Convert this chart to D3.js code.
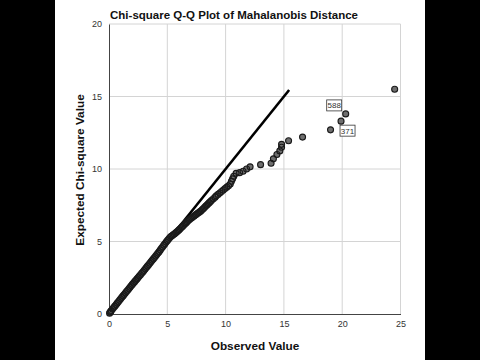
<!DOCTYPE html>
<html><head><meta charset="utf-8">
<script src="https://cdn.jsdelivr.net/npm/d3@7"></script>
<style>html,body{margin:0;padding:0;background:#000;}svg{display:block;}</style>
</head><body>
<script>
// ---- data ----
const titleText = "Chi-square Q-Q Plot of Mahalanobis Distance";
const xLabel = "Observed Value";
const yLabel = "Expected Chi-square Value";
const xTicks = [0, 5, 10, 15, 20, 25];
const yTicks = [0, 5, 10, 15, 20];
const refLineEnds = [0, 15.45];
const observed = [
  0.05,0.1,0.15,0.2,0.3,0.4,0.5,0.6,0.7,0.8,0.9,1.0,1.1,1.2,1.3,1.4,1.5,1.6,1.7,1.8,
  1.9,2.0,2.1,2.2,2.3,2.4,2.5,2.6,2.7,2.8,2.9,3.0,3.1,3.2,3.3,3.4,3.5,3.6,3.7,3.8,
  3.9,4.0,4.1,4.2,4.3,4.4,4.5,4.6,4.7,4.8,4.9,5.0,5.1,5.2,5.3,5.4,5.5,5.6,5.7,5.8,
  5.9,6.0,6.1,6.2,6.3,6.4,6.5,6.6,6.7,6.8,6.9,7.0,7.1,7.2,7.3,7.4,7.5,7.6,7.7,7.8,
  7.9,8.0,8.1,8.2,8.3,8.4,8.5,8.6,8.7,8.8,8.95,9.1,9.2,9.35,9.5,9.65,9.8,9.95,10.1,10.25,
  10.4,10.5,10.6,10.7,10.9,11.2,11.5,11.8,12.1,13.0,13.9,14.1,14.4,14.65,14.8,14.8,15.4,16.6,19.0,19.9,
  20.3,24.5
];
const expected = [
  0.06,0.12,0.18,0.24,0.34,0.44,0.54,0.64,0.75,0.85,0.95,1.05,1.15,1.25,1.35,1.45,1.55,1.64,1.74,1.84,
  1.94,2.04,2.13,2.23,2.32,2.42,2.52,2.62,2.71,2.81,2.9,3.0,3.1,3.2,3.3,3.4,3.5,3.6,3.7,3.8,
  3.9,4.0,4.1,4.2,4.3,4.42,4.53,4.64,4.75,4.85,4.96,5.06,5.16,5.26,5.34,5.4,5.46,5.52,5.58,5.65,
  5.72,5.8,5.88,5.96,6.04,6.12,6.2,6.28,6.36,6.44,6.52,6.58,6.64,6.7,6.76,6.82,6.88,6.94,7.0,7.06,
  7.12,7.2,7.28,7.36,7.44,7.52,7.6,7.68,7.76,7.84,7.95,8.06,8.15,8.25,8.35,8.45,8.55,8.65,8.75,8.85,
  8.97,9.15,9.32,9.5,9.7,9.75,9.85,10.0,10.15,10.3,10.4,10.7,11.0,11.25,11.5,11.7,11.95,12.2,12.7,13.3,
  13.8,15.5
];
const pointLabels = ["588", "371"];
const pointLabelIndex = [120, 119];

// ---- layout ----
const W = 480, H = 360;
const FONT = "Liberation Sans, Arial, sans-serif";
const svg = d3.select("body").append("svg").attr("width", W).attr("height", H);
svg.append("rect").attr("width", W).attr("height", H).attr("fill", "#000");
svg.append("rect").attr("x", 55).attr("y", 0).attr("width", 370).attr("height", H).attr("fill", "#fff");

const x = d3.scaleLinear().domain([0, 25]).range([109, 400.5]);
const y = d3.scaleLinear().domain([0, 20]).range([314, 24]);

// grid
svg.append("g").selectAll("line").data(xTicks.filter(d => d > 0)).join("line")
  .attr("x1", d => x(d)).attr("x2", d => x(d)).attr("y1", y(0)).attr("y2", y(20))
  .attr("stroke", "#d4d4d4").attr("stroke-width", 1);
svg.append("g").selectAll("line").data(yTicks.filter(d => d > 0)).join("line")
  .attr("x1", x(0)).attr("x2", x(25)).attr("y1", d => y(d)).attr("y2", d => y(d))
  .attr("stroke", "#d4d4d4").attr("stroke-width", 1);

// axes
const xAxis = svg.append("g").attr("transform", `translate(0,${y(0)})`)
  .call(d3.axisBottom(x).tickValues(xTicks).tickSize(0).tickPadding(7));
const yAxis = svg.append("g").attr("transform", `translate(${x(0)},0)`)
  .call(d3.axisLeft(y).tickValues(yTicks).tickSize(0).tickPadding(7));
[xAxis, yAxis].forEach(g => {
  g.select(".domain").attr("stroke", "#444").attr("stroke-width", 1);
  g.selectAll("text").attr("font-family", FONT).attr("font-size", 9).attr("fill", "#333");
});

// reference line
svg.append("line")
  .attr("x1", x(refLineEnds[0])).attr("y1", y(refLineEnds[0]))
  .attr("x2", x(refLineEnds[1])).attr("y2", y(refLineEnds[1]))
  .attr("stroke", "#000").attr("stroke-width", 2.6);

// points: fills first, then outlines on top
const pts = observed.map((o, i) => ({ o, e: expected[i] }));
svg.append("g").selectAll("circle").data(pts).join("circle")
  .attr("cx", d => x(d.o)).attr("cy", d => y(d.e)).attr("r", 3)
  .attr("fill", "#6e6e6e").attr("stroke", "none");
svg.append("g").selectAll("circle").data(pts).join("circle")
  .attr("cx", d => x(d.o)).attr("cy", d => y(d.e)).attr("r", 3)
  .attr("fill", "none").attr("stroke", "#1a1a1a").attr("stroke-width", 1.1);

// point labels
const lbl = pointLabels.map((t, i) => ({ t, p: pts[pointLabelIndex[i]] }));
const offsets = [[-19, -14], [-1, 4]];
const lg = svg.append("g").selectAll("g").data(lbl).join("g")
  .attr("transform", (d, i) => `translate(${x(d.p.o) + offsets[i][0]},${y(d.p.e) + offsets[i][1]})`);
lg.append("rect").attr("width", 15).attr("height", 11).attr("fill", "#fff")
  .attr("stroke", "#333").attr("stroke-width", 0.8);
lg.append("text").text(d => d.t).attr("x", 7.5).attr("y", 8.5).attr("text-anchor", "middle")
  .attr("font-family", FONT).attr("font-size", 8).attr("fill", "#333");

// titles
svg.append("text").text(titleText).attr("x", 234).attr("y", 19).attr("text-anchor", "middle")
  .attr("font-family", FONT).attr("font-size", 11.5).attr("font-weight", "bold").attr("fill", "#111");
svg.append("text").text(xLabel).attr("x", 255).attr("y", 350).attr("text-anchor", "middle")
  .attr("font-family", FONT).attr("font-size", 11.8).attr("font-weight", "bold").attr("fill", "#111");
svg.append("text").text(yLabel).attr("transform", "translate(84,170) rotate(-90)").attr("text-anchor", "middle")
  .attr("font-family", FONT).attr("font-size", 11.8).attr("font-weight", "bold").attr("fill", "#111");
</script>
</body></html>
